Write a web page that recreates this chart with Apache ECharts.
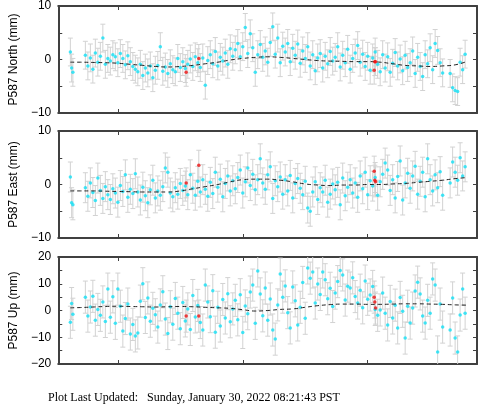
<!DOCTYPE html>
<html>
<head>
<meta charset="utf-8">
<script src="https://cdn.jsdelivr.net/npm/echarts@6/dist/echarts.min.js"></script>
<style>
  html, body { margin: 0; padding: 0; background: #fff; }
  #chart { width: 481px; height: 404px; }
</style>
</head>
<body>
<div id="chart"></div>
<script>
// observation epochs (decimal year)
const times = [
  2018.62, 2018.63, 2018.64,
  2018.74, 2018.76, 2018.78, 2018.80, 2018.82, 2018.84, 2018.86, 2018.88, 2018.90, 2018.92,
  2018.94, 2018.96, 2018.98, 2019.00, 2019.02, 2019.04, 2019.06, 2019.08, 2019.10, 2019.12,
  2019.14, 2019.16, 2019.18, 2019.20, 2019.22, 2019.24, 2019.26, 2019.28, 2019.30, 2019.32,
  2019.34, 2019.36, 2019.38, 2019.40, 2019.42, 2019.44, 2019.46, 2019.48, 2019.50, 2019.52,
  2019.54, 2019.56, 2019.58, 2019.60, 2019.62, 2019.64, 2019.66, 2019.68, 2019.70, 2019.72,
  2019.74, 2019.76, 2019.78, 2019.80, 2019.82, 2019.84, 2019.86, 2019.88, 2019.90, 2019.92,
  2019.94, 2019.96, 2019.98, 2020.00, 2020.02, 2020.04, 2020.06, 2020.08, 2020.10, 2020.12,
  2020.14, 2020.16, 2020.18, 2020.20, 2020.22, 2020.24, 2020.26, 2020.28, 2020.30, 2020.32,
  2020.34, 2020.36, 2020.38, 2020.40, 2020.42, 2020.44, 2020.46, 2020.48, 2020.50, 2020.52,
  2020.54, 2020.56, 2020.58, 2020.60, 2020.62, 2020.64, 2020.66, 2020.68, 2020.70, 2020.72,
  2020.74, 2020.76, 2020.78, 2020.80, 2020.82, 2020.84, 2020.86, 2020.88, 2020.90, 2020.92,
  2020.94, 2020.96, 2020.98, 2021.00, 2021.02, 2021.04, 2021.06, 2021.08, 2021.10, 2021.12,
  2021.14, 2021.16, 2021.18, 2021.20, 2021.22, 2021.24, 2021.26, 2021.28, 2021.30, 2021.32,
  2021.34, 2021.36, 2021.38, 2021.40, 2021.42, 2021.44, 2021.46, 2021.48, 2021.50, 2021.52,
  2021.54, 2021.56, 2021.58, 2021.60,
  2021.66, 2021.68, 2021.70, 2021.72, 2021.74, 2021.76, 2021.78
]

const northVals = [
  1.4, -1.6, -2.4,
  0.8, -1.2, 0.3, -1.8, 1.2, -0.5, 0.6, 4.0, -0.9, 0.2,
  -0.3, 0.9, 0.5, -0.6, 1.1, 0.2, -1.0, 0.7, -0.4, -1.3,
  -1.8, -2.3, -0.9, -3.0, -1.6, -2.5, -1.2, -3.4, -2.0, -1.1,
  2.4, -2.2, -1.4, -2.6, -0.8, -1.9, -2.3, 0.2, -1.5, -0.4,
  -1.7, -0.9, 0.1, -1.3, 0.5, -0.6, -1.5, 0.3, -4.8, -0.2,
  0.9, -0.8, 1.5, -1.2, 0.4, -0.3, 1.2, -0.9, 2.0, 0.6,
  1.8, 3.0, 0.5, 2.4, 6.0, 1.1, 4.8, 2.2, -2.4, 0.9,
  2.8, 0.4, 1.6, -0.5, 3.2, 6.1, 1.0, 4.0, -0.6, 2.5,
  1.4, 3.0, -0.4, 2.1, 0.8, 2.9, -0.7, 1.6, 0.2, 2.4,
  -1.2, 0.9, -2.1, 0.3, 1.1, -1.6, 0.6, -0.8, 1.5, -0.3,
  0.4, 2.4, -1.4, 0.8, -0.6, 1.9, -1.8, 0.2, 1.2, 2.6,
  -0.5, 1.0, -1.3, 0.6, -2.0, 0.3, 1.4, -0.9, -2.3, 0.9,
  -1.6, 0.5, -2.4, -0.7, 1.3, -1.2, 0.1, -2.1, 0.8, -1.5,
  -0.6, 1.6, -2.6, 0.4, -1.3, -3.2, 0.9, -0.8, 2.2, -1.9,
  3.0, 1.7, -0.6, -2.5,
  -2.6, -5.3, -5.8, -6.0, -0.5, -1.9, 1.0
]

const eastVals = [
  1.4, -3.4, -3.8,
  -0.6, -2.2, 0.3, -1.5, -3.0, 1.2, -1.1, -2.6, -0.4, -1.9,
  -2.8, -0.8, -1.6, -3.3, -0.2, -1.3, 1.8, -2.4, -0.9, -1.7,
  2.0, -1.4, -2.9, -0.5, -2.1, -3.4, -1.0, 0.8, -2.5, -1.2,
  -2.0, -0.4, 3.1, 2.3, -1.6, -2.3, -0.6, -1.8, 0.2, -1.1,
  -0.3, -1.9, 1.8, -0.7, -2.0, 0.6, -1.4, 0.9, -0.9, -2.2,
  0.4, -1.7, 2.3, -0.5, 1.0, -2.3, 0.2, 1.6, -1.2, 0.7,
  -0.8, 1.3, 2.7, -1.6, 0.5, 3.1, -0.2, 1.9, -1.0, 0.9,
  4.8, 0.3, -0.9, 1.8, 3.3, -2.6, 0.7, -0.4, 1.4, -1.8,
  0.9, -1.2, 1.7, -2.5, 0.2, 1.1, -0.7, -1.9, 0.6, -4.4,
  -5.0, -1.4, 0.5, -2.8, -0.6, -1.4, 0.8, -3.3, -1.8, 0.1,
  -1.0, 0.4, -3.8, 1.2, -2.1, -0.5, 0.9, -1.6, 0.3, -2.4,
  1.6, -0.8, 2.3, -1.9, 0.7, -0.3, 1.3, -2.0, 0.5, 1.9,
  4.0, 2.7, -1.1, 0.9, -2.5, 1.5, 4.4, -2.9, 0.3, 2.1,
  -0.7, 1.6, 3.4, -1.8, 0.6, 2.3, -2.3, 4.8, 0.9, -1.2,
  1.8, -0.6, 2.4, -2.0,
  0.3, 4.2, 2.3, 0.8, 5.0, 1.6, 3.3
]

const upVals = [
  -4.4, 2.6, -1.4,
  5.0, -2.1, 1.3, 5.3, -3.6, 0.4, -1.8, 3.2, -4.1, 8.0,
  -2.5, 5.1, -4.8, 8.0, 1.6, -7.7, -3.0, 2.4, -8.8, -5.2,
  -9.5, -8.4, 3.5, 10.0, -2.6, 4.7, -4.0, 0.8, -1.6, -6.2,
  2.1, 7.0, -3.2, -8.6, 1.4, -5.1, 4.5, -1.0, -6.8, 3.0,
  -3.9, 0.6, -7.1, 5.6, -2.4, 1.9, -4.5, -7.3, 9.5, 3.2,
  -2.3, 7.4, -8.1, 1.2, -5.8, 4.1, -2.8, 6.3, -4.2, 0.6,
  3.8, -3.5, 5.9, -8.2, 1.7, -1.2, 6.9, 9.5, -4.8, 14.8,
  6.2, -2.0, 8.4, -3.6, 4.3, -7.3, -10.7, 2.1, 13.6, 5.0,
  9.2, -0.8, -6.5, 8.8, 3.6, -5.4, 1.2, 10.5, -2.9, 15.9,
  12.1, 14.4, 2.8, 9.9, 6.0, 14.4, 11.5, 4.4, 8.3, 1.5,
  6.5, 10.8, 15.0, 13.3, 3.9, 9.1, 8.4, 12.2, 5.2, 2.8,
  7.6, 1.0, 11.0, 4.2, 5.8, 9.0, 0.4, -1.8, 0.2, 6.5,
  -1.0, -5.4, 3.4, -2.8, 2.0, -6.5, 4.9, -0.3, -10.3, 1.6,
  -4.7, 0.9, 7.3, 10.6, 6.2, -2.1, -4.7, 3.8, -1.0, 11.8,
  9.5, -15.5, 2.4, -6.2,
  -7.3, 4.7, -10.3, -15.5, -1.7, 8.0, -1.0
]

// typical 1-sigma error per component (mm)
const northErr = 2.6
const eastErr = 2.8
const upErr = 6.0

// model curve
const modelTimes = [
  2018.62, 2018.7, 2018.8, 2018.9, 2019.0, 2019.1, 2019.2, 2019.3, 2019.4, 2019.5, 2019.6,
  2019.7, 2019.8, 2019.9, 2020.0, 2020.1, 2020.2, 2020.3, 2020.4, 2020.5, 2020.6, 2020.7,
  2020.8, 2020.9, 2021.0, 2021.1, 2021.2, 2021.3, 2021.4, 2021.5, 2021.6, 2021.7, 2021.8
]
const northModel = [
  -0.5, -0.5, -0.55, -0.6, -0.7, -0.9, -1.1, -1.3, -1.4, -1.3, -1.1,
  -0.8, -0.5, -0.1, 0.2, 0.4, 0.5, 0.4, 0.2, 0.0, -0.2, -0.3,
  -0.35, -0.4, -0.4, -0.5, -0.8, -1.1, -1.2, -1.3, -1.2, -1.0, -0.3
]
const eastModel = [
  -1.2, -1.2, -1.2, -1.25, -1.3, -1.35, -1.4, -1.4, -1.4, -1.2, -0.8,
  -0.4, 0.0, 0.5, 0.9, 1.0, 1.0, 0.8, 0.5, 0.1, -0.1, -0.2,
  -0.1, -0.1, 0.0, 0.0, 0.1, 0.2, 0.4, 0.6, 0.8, 1.1, 1.3
]
const upModel = [
  1.0, 1.1, 1.3, 1.5, 1.6, 1.5, 1.4, 1.3, 1.4, 1.5, 1.4,
  1.2, 1.0, 0.8, 0.3, -0.2, 0.0, 0.4, 0.6, 1.2, 1.8, 2.2,
  2.4, 2.4, 2.3, 2.3, 2.4, 2.5, 2.5, 2.4, 2.3, 2.1, 2.0
]

// rejected outliers (red)
const outlierTimes = [2019.547, 2019.648, 2021.052, 2021.057, 2021.063]
const northOut = [-2.4, 0.2, -2.0, -0.4, -0.4]
const eastOut = [0.3, 3.6, 2.5, 0.8, 0.5]
const upOut = [-2.1, -2.1, 5.0, 3.2, 0.9]

const yearTicks = [2019, 2020, 2021]

const panels = [
  { name: 'P587 North (mm)', vals: northVals, err: northErr, model: northModel, out: northOut, min: -10, max: 10 },
  { name: 'P587 East (mm)', vals: eastVals, err: eastErr, model: eastModel, out: eastOut, min: -10, max: 10 },
  { name: 'P587 Up (mm)', vals: upVals, err: upErr, model: upModel, out: upOut, min: -20, max: 20 }
]
const gridTops = [5, 131, 257]
const gridHeights = [108, 107, 107]

const frame = { onZero: false, lineStyle: { color: '#404040', width: 2 } }
const tick = { inside: true, length: 4, lineStyle: { color: '#404040', width: 1 } }

const grids = []
const xAxes = []
const yAxes = []
const series = []

function errorBars(i, data) {
  return {
    type: 'custom',
    xAxisIndex: 2 * i,
    yAxisIndex: 2 * i,
    clip: true,
    z: 1,
    renderItem: function(params, api) {
      const x = api.value(0)
      const y = api.value(1)
      const e = api.value(2)
      const top = api.coord([x, y + e])
      const bot = api.coord([x, y - e])
      const style = { stroke: '#d2d2d2', lineWidth: 1 }
      return {
        type: 'group',
        children: [
          { type: 'line', shape: { x1: top[0], y1: top[1], x2: bot[0], y2: bot[1] }, style: style },
          { type: 'line', shape: { x1: top[0] - 2.5, y1: top[1], x2: top[0] + 2.5, y2: top[1] }, style: style },
          { type: 'line', shape: { x1: bot[0] - 2.5, y1: bot[1], x2: bot[0] + 2.5, y2: bot[1] }, style: style }
        ]
      }
    },
    data: data
  }
}

panels.forEach((p, i) => {
  grids.push({ left: 48, width: 429, top: gridTops[i], height: gridHeights[i] })
  const xBase = {
    gridIndex: i,
    type: 'value',
    min: 2018.523,
    max: 2021.875,
    axisLine: frame,
    axisTick: Object.assign({ customValues: yearTicks }, tick),
    axisLabel: { show: false },
    splitLine: { show: false }
  }
  xAxes.push(Object.assign({ position: 'bottom' }, xBase))
  xAxes.push(Object.assign({ position: 'top' }, xBase))
  const yBase = {
    gridIndex: i,
    type: 'value',
    min: p.min,
    max: p.max,
    interval: 5,
    axisLine: frame,
    axisTick: tick,
    splitLine: { show: false }
  }
  yAxes.push(Object.assign({
    position: 'left',
    name: p.name,
    nameLocation: 'middle',
    nameGap: 33,
    nameTextStyle: { fontSize: 12, color: '#000', fontFamily: 'Liberation Sans' },
    axisLabel: {
      fontSize: 12,
      color: '#000',
      fontFamily: 'Liberation Sans',
      margin: 7,
      formatter: v => (v % 10 === 0 ? (v < 0 ? '\u2212' + -v : String(v)) : '')
    }
  }, yBase))
  yAxes.push(Object.assign({ position: 'right', axisLabel: { show: false } }, yBase))

  series.push(errorBars(i, times.map((t, k) => [t, p.vals[k], p.err])))
  series.push(errorBars(i, outlierTimes.map((t, k) => [t, p.out[k], p.err])))
  series.push({
    type: 'scatter',
    xAxisIndex: 2 * i,
    yAxisIndex: 2 * i,
    symbol: 'circle',
    symbolSize: 3.5,
    itemStyle: { color: '#14e0f5' },
    z: 2,
    data: times.map((t, k) => [t, p.vals[k]])
  })
  series.push({
    type: 'line',
    xAxisIndex: 2 * i,
    yAxisIndex: 2 * i,
    smooth: true,
    showSymbol: false,
    lineStyle: { color: '#222', width: 1, type: [4, 3] },
    z: 3,
    data: modelTimes.map((t, k) => [t, p.model[k]])
  })
  series.push({
    type: 'scatter',
    xAxisIndex: 2 * i,
    yAxisIndex: 2 * i,
    symbol: 'circle',
    symbolSize: 3.5,
    itemStyle: { color: '#ee1111' },
    z: 4,
    data: outlierTimes.map((t, k) => [t, p.out[k]])
  })
})

const chart = echarts.init(document.getElementById('chart'))
chart.setOption({
  animation: false,
  backgroundColor: '#fff',
  grid: grids,
  xAxis: xAxes,
  yAxis: yAxes,
  series: series,
  graphic: [{
    type: 'text',
    left: 48,
    top: 392,
    style: {
      text: 'Plot Last Updated:   Sunday, January 30, 2022 08:21:43 PST',
      font: '12px "Liberation Serif"',
      fill: '#000'
    }
  }]
})
window.addEventListener('resize', () => chart.resize())
</script>
</body>
</html>
